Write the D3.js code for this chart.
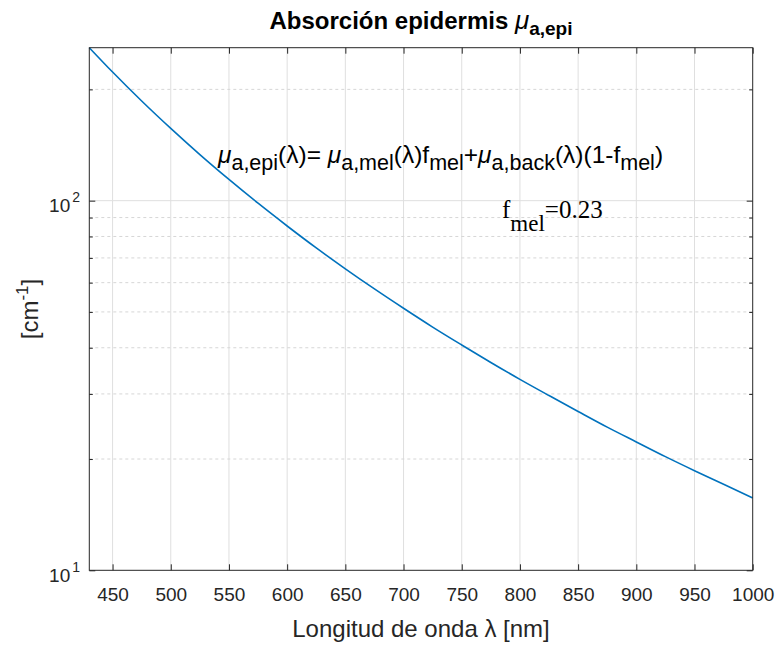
<!DOCTYPE html>
<html>
<head>
<meta charset="utf-8">
<script src="https://cdn.jsdelivr.net/npm/d3@7"></script>
<style>
  html, body { margin: 0; padding: 0; background: #fff; }
  svg { display: block; font-family: "Liberation Sans", Arial, Helvetica, sans-serif; }
</style>
</head>
<body>
<svg id="chart" width="775" height="645"></svg>
<script>
// Wavelength samples [nm]
const lambda = [430, 450, 475, 500, 525, 550, 575, 600, 625, 650, 675, 700,
                725, 750, 775, 800, 825, 850, 875, 900, 925, 950, 975, 1000];
// Epidermal absorption coefficient mu_a,epi [cm^-1]
const muEpi = [259.3, 222.8, 186.0, 156.8, 133.2, 114.1, 98.4, 85.4, 74.5, 65.4, 57.7, 51.15,
               45.5, 40.7, 36.5, 32.85, 29.7, 26.9, 24.4, 22.25, 20.3, 18.6, 17.1, 15.7];

const xTicks = [450, 500, 550, 600, 650, 700, 750, 800, 850, 900, 950, 1000];
const yMajor = [10, 100];
const yMajorExp = ["1", "2"];
const yMinor = [20, 30, 40, 50, 60, 70, 80, 90, 200];

const W = 775, H = 645;
const margin = { top: 47.7, right: 22.3, bottom: 74.7, left: 89.3 };
const x0 = margin.left, x1 = W - margin.right;
const y0 = H - margin.bottom, y1 = margin.top;

const svg = d3.select("#chart");
const axisColor = "#262626";

const x = d3.scaleLinear().domain([430, 1000]).range([x0, x1]);
const y = d3.scaleLog().domain([10, d3.max(muEpi)]).range([y0, y1]);

// Grid: vertical major lines, horizontal major (solid) and minor (dashed)
const grid = svg.append("g");
grid.selectAll(".gx").data(xTicks.filter(v => v < 1000)).join("line")
  .attr("x1", d => x(d)).attr("x2", d => x(d))
  .attr("y1", y0).attr("y2", y1)
  .attr("stroke", "#dfdfdf").attr("stroke-width", 1);
grid.selectAll(".gy").data(yMajor.filter(v => v > 10)).join("line")
  .attr("x1", x0).attr("x2", x1)
  .attr("y1", d => y(d)).attr("y2", d => y(d))
  .attr("stroke", "#dfdfdf").attr("stroke-width", 1);
grid.selectAll(".gym").data(yMinor).join("line")
  .attr("x1", x0).attr("x2", x1)
  .attr("y1", d => y(d)).attr("y2", d => y(d))
  .attr("stroke", "#d6d6d6").attr("stroke-width", 1)
  .attr("stroke-dasharray", "3,3");

// Data curve
const line = d3.line()
  .x((d, i) => x(lambda[i]))
  .y(d => y(d))
  .curve(d3.curveMonotoneX);
svg.append("path")
  .datum(muEpi)
  .attr("d", line)
  .attr("fill", "none")
  .attr("stroke", "#0072BD")
  .attr("stroke-width", 1.6);

// Axes with inward ticks on all four sides
function styleAxis(g) {
  g.select(".domain").remove();
  g.selectAll(".tick line").attr("stroke", axisColor);
  g.selectAll(".tick text").attr("fill", axisColor);
}
const xAxis = svg.append("g")
  .attr("transform", `translate(0,${y0})`)
  .call(d3.axisBottom(x).tickValues(xTicks).tickSize(-6).tickPadding(17).tickFormat(d3.format("d")))
  .attr("font-size", 19).attr("font-family", null);
styleAxis(xAxis);
const xTop = svg.append("g")
  .attr("transform", `translate(0,${y1})`)
  .call(d3.axisTop(x).tickValues(xTicks).tickSize(-6).tickFormat(""));
styleAxis(xTop);

const yLeft = svg.append("g")
  .attr("transform", `translate(${x0},0)`)
  .call(d3.axisLeft(y).tickValues(yMajor).tickSize(-6).tickFormat(""));
styleAxis(yLeft);
const yLeftMinor = svg.append("g")
  .attr("transform", `translate(${x0},0)`)
  .call(d3.axisLeft(y).tickValues(yMinor).tickSize(-3.5).tickFormat(""));
styleAxis(yLeftMinor);
const yRight = svg.append("g")
  .attr("transform", `translate(${x1},0)`)
  .call(d3.axisRight(y).tickValues(yMajor).tickSize(-6).tickFormat(""));
styleAxis(yRight);
const yRightMinor = svg.append("g")
  .attr("transform", `translate(${x1},0)`)
  .call(d3.axisRight(y).tickValues(yMinor).tickSize(-3.5).tickFormat(""));
styleAxis(yRightMinor);

// Power-of-ten labels on the log axis
const yLab = svg.append("g").attr("fill", axisColor);
yMajor.forEach((v, i) => {
  const t = yLab.append("text")
    .attr("x", 80).attr("y", y(v) + 11.5)
    .attr("text-anchor", "end").attr("font-size", 19);
  t.append("tspan").text("10");
  t.append("tspan").attr("font-size", 14).attr("dy", -10).attr("dx", 2).text(yMajorExp[i]);
});

// Plot box
svg.append("rect")
  .attr("x", x0).attr("y", y1)
  .attr("width", x1 - x0).attr("height", y0 - y1)
  .attr("fill", "none").attr("stroke", axisColor).attr("stroke-width", 1);

// Title
const title = svg.append("text")
  .attr("x", (x0 + x1) / 2).attr("y", 29)
  .attr("text-anchor", "middle").attr("font-size", 24).attr("font-weight", "bold")
  .attr("fill", "#000");
title.append("tspan").text("Absorción epidermis ");
title.append("tspan").attr("font-style", "italic").attr("font-weight", "normal").attr("font-size", 26).text("μ");
title.append("tspan").attr("font-size", 19).attr("dy", 6).text("a,epi");

// Axis labels
svg.append("text")
  .attr("x", (x0 + x1) / 2).attr("y", 637)
  .attr("text-anchor", "middle").attr("font-size", 24).attr("fill", axisColor)
  .text("Longitud de onda λ [nm]");

const yTitle = svg.append("text")
  .attr("transform", `translate(38,${(y0 + y1) / 2}) rotate(-90)`)
  .attr("text-anchor", "middle").attr("font-size", 24).attr("fill", axisColor);
yTitle.append("tspan").text("[cm");
yTitle.append("tspan").attr("font-size", 17).attr("dy", -10).text("-1");
yTitle.append("tspan").attr("dy", 10).text("]");

// Model equation annotation
const eq = svg.append("text")
  .attr("x", 218).attr("y", 163)
  .attr("font-size", 24.5).attr("fill", "#000");
const parts = [
  ["μ", "mu"], ["a,epi", "sub"], ["(λ)= ", "n"],
  ["μ", "mu"], ["a,mel", "sub"], ["(λ)f", "n"], ["mel", "sub"], ["+", "n"],
  ["μ", "mu"], ["a,back", "sub"], ["(λ)(1-f", "n"], ["mel", "sub"], [")", "n"]
];
let inSub = false;
parts.forEach(([s, kind]) => {
  const t = eq.append("tspan").text(s);
  if (kind === "sub") {
    t.attr("font-size", 21.5).attr("dy", inSub ? 0 : 7);
    inSub = true;
  } else {
    t.attr("dy", inSub ? -7 : 0);
    inSub = false;
    if (kind === "mu") t.attr("font-style", "italic");
  }
});

const fm = svg.append("text")
  .attr("x", 502).attr("y", 218)
  .attr("font-family", "'Liberation Serif', 'Times New Roman', serif")
  .attr("font-size", 25).attr("fill", "#000");
fm.append("tspan").text("f");
fm.append("tspan").attr("font-size", 23).attr("dy", 13).text("mel");
fm.append("tspan").attr("dy", -13).text("=0.23");
</script>
</body>
</html>
